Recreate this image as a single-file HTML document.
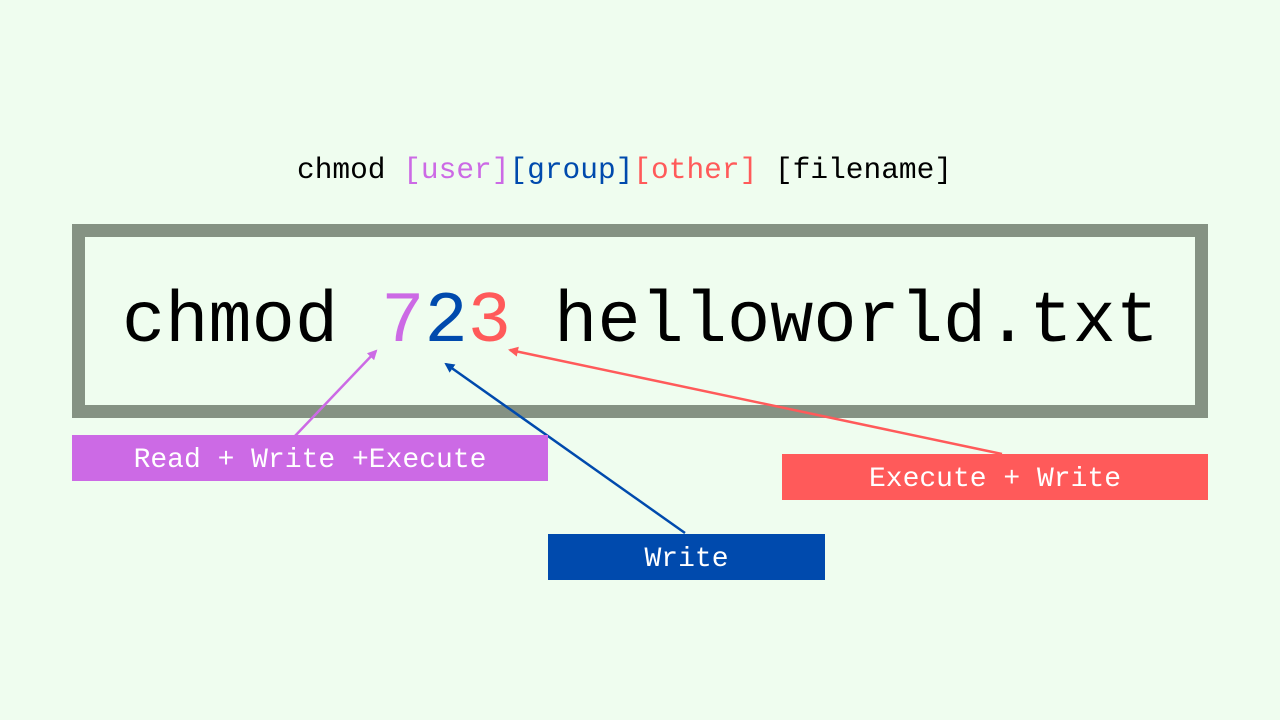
<!DOCTYPE html>
<html><head><meta charset="utf-8"><style>
html,body{margin:0;padding:0;background:#effdef;}
svg{display:block}
text{font-family:"Liberation Mono","DejaVu Sans Mono",monospace;}
</style></head><body>
<svg width="1280" height="720" viewBox="0 0 1280 720" xmlns="http://www.w3.org/2000/svg">
<rect width="1280" height="720" fill="#effdef"/>
<text x="297" y="178" font-size="29.5" fill="#000" xml:space="preserve">chmod <tspan fill="#cc6ae5">[user]</tspan><tspan fill="#004aad">[group]</tspan><tspan fill="#ff5a5a">[other]</tspan> [filename]</text>
<rect x="78.5" y="230.5" width="1123" height="181" fill="none" stroke="#859283" stroke-width="13"/>
<text x="122" y="341" font-size="72" fill="#000" xml:space="preserve">chmod <tspan fill="#cc6ae5">7</tspan><tspan fill="#004aad">2</tspan><tspan fill="#ff5a5a">3</tspan> helloworld.txt</text>
<defs>
<marker id="mp" markerWidth="10" markerHeight="10" refX="8" refY="5" orient="auto" markerUnits="userSpaceOnUse"><path d="M0,0 L10,5 L0,10 z" fill="#cc6ae5"/></marker>
<marker id="mb" markerWidth="10" markerHeight="10" refX="8" refY="5" orient="auto" markerUnits="userSpaceOnUse"><path d="M0,0 L10,5 L0,10 z" fill="#004aad"/></marker>
<marker id="mr" markerWidth="10" markerHeight="10" refX="8" refY="5" orient="auto" markerUnits="userSpaceOnUse"><path d="M0,0 L10,5 L0,10 z" fill="#ff5a5a"/></marker>
</defs>
<line x1="295" y1="436" x2="376" y2="351" stroke="#cc6ae5" stroke-width="2.5" marker-end="url(#mp)"/>
<line x1="685" y1="533" x2="446" y2="364" stroke="#004aad" stroke-width="2.5" marker-end="url(#mb)"/>
<line x1="1002" y1="454" x2="510" y2="350" stroke="#ff5a5a" stroke-width="2.5" marker-end="url(#mr)"/>
<rect x="72" y="435" width="476" height="46" fill="#cc6ae5"/>
<text x="310" y="467" font-size="28" fill="#fff" text-anchor="middle">Read + Write +Execute</text>
<rect x="782" y="454" width="426" height="46" fill="#ff5a5a"/>
<text x="995" y="486" font-size="28" fill="#fff" text-anchor="middle">Execute + Write</text>
<rect x="548" y="534" width="277" height="46" fill="#004aad"/>
<text x="686.5" y="566" font-size="28" fill="#fff" text-anchor="middle">Write</text>
</svg>
</body></html>
